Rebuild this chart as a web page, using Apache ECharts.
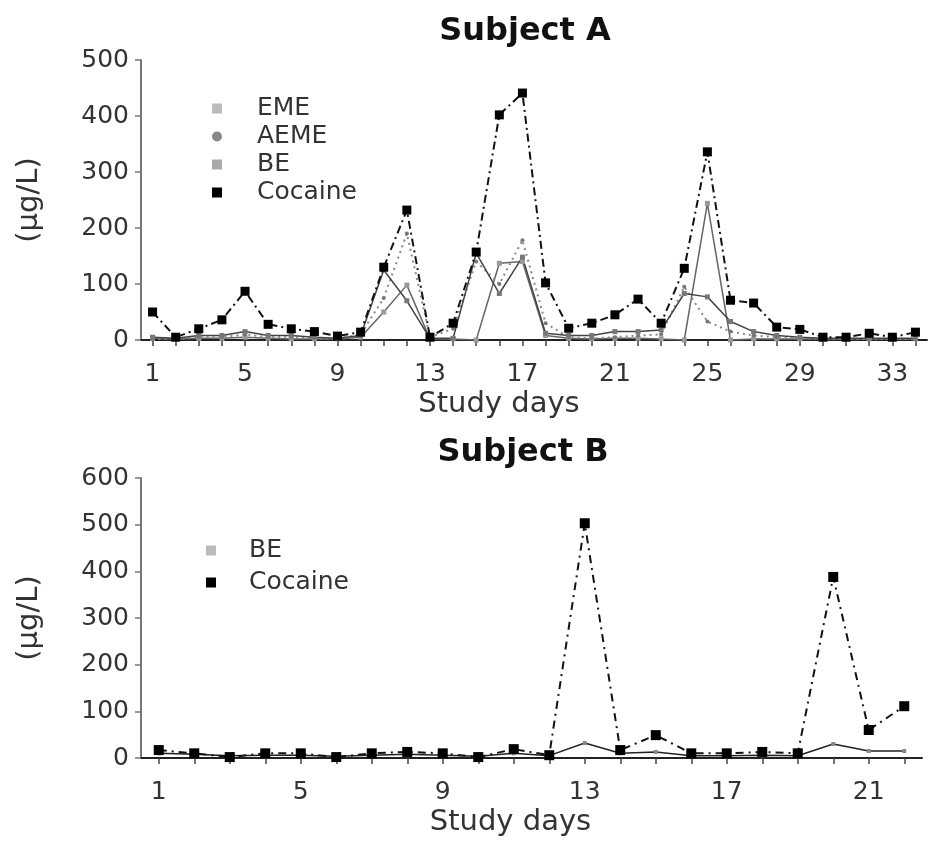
<!DOCTYPE html>
<html>
<head>
<meta charset="utf-8">
<script src="https://cdn.jsdelivr.net/npm/echarts@6/dist/echarts.min.js"></script>
<style>
  html, body { margin: 0; padding: 0; background: #fff; }
  #main { width: 928px; height: 844px; }
</style>
</head>
<body>
<div id="main"></div>
<script>
// Subject A, days 1..34
let daysA = ['1','2','3','4','5','6','7','8','9','10','11','12','13','14','15','16','17','18','19','20','21','22','23','24','25','26','27','28','29','30','31','32','33','34']
let emeA = [3, 2, 3, 3, 5, 3, 2, 2, 2, 5, 50, 98, 2, 2, 0, 137, 140, 8, 3, 2, 3, 3, 2, 0, 244, 0, 2, 2, 2, 2, 2, 2, 2, 2]
let aemeA = [2, 2, 5, 5, 10, 5, 5, 3, 2, 10, 75, 190, 5, 20, 140, 100, 178, 30, 5, 3, 5, 8, 10, 95, 33, 15, 8, 5, 3, 2, 2, 2, 2, 2]
let beA = [5, 3, 8, 8, 15, 8, 8, 5, 3, 8, 125, 70, 3, 3, 155, 83, 148, 12, 8, 8, 15, 15, 18, 83, 77, 33, 15, 8, 5, 3, 3, 3, 3, 3]
let cocaineA = [50, 5, 20, 36, 87, 28, 20, 15, 7, 14, 130, 232, 5, 30, 157, 402, 441, 102, 21, 30, 45, 73, 30, 128, 336, 71, 66, 23, 19, 5, 5, 12, 5, 14]

// Subject B, days 1..22
let daysB = ['1','2','3','4','5','6','7','8','9','10','11','12','13','14','15','16','17','18','19','20','21','22']
let beB = [10, 8, 5, 6, 6, 4, 6, 8, 6, 4, 10, 5, 32, 10, 13, 5, 5, 6, 5, 30, 15, 15]
let cocaineB = [17, 10, 2, 10, 10, 2, 10, 13, 10, 2, 19, 6, 503, 17, 49, 10, 10, 13, 10, 388, 60, 111]

let font = 'DejaVu Sans'

// 坐标轴通用样式
function xAxisOf(data, gridIndex, padRight) {
  return {
    type: 'category',
    gridIndex: gridIndex,
    data: data,
    name: 'Study days',
    nameLocation: 'middle',
    nameGap: 50,
    nameTextStyle: { fontFamily: font, fontSize: 29, color: '#333', padding: [0, padRight, 0, 0] },
    axisLine: { lineStyle: { color: '#222', width: 2 } },
    axisTick: { show: true, alignWithLabel: true, interval: 0, length: 6, lineStyle: { color: '#444', width: 1.5 } },
    axisLabel: { interval: 3, margin: 22, fontFamily: font, fontSize: 25, color: '#333' },
    splitLine: { show: false },
  }
}

function yAxisOf(max, gridIndex) {
  return {
    type: 'value',
    gridIndex: gridIndex,
    min: 0,
    max: max,
    interval: 100,
    name: '(µg/L)',
    nameLocation: 'middle',
    nameGap: 97,
    nameTextStyle: { fontFamily: font, fontSize: 29, color: '#333' },
    axisLine: { show: true, lineStyle: { color: '#777', width: 2 } },
    axisTick: { show: true, length: 6, lineStyle: { color: '#777', width: 1.5 } },
    axisLabel: { margin: 12, fontFamily: font, fontSize: 25, color: '#333', padding: [10, 0, 0, 0] },
    splitLine: { show: false },
  }
}

var myChart = echarts.init(document.getElementById('main'))
var option = {
  backgroundColor: '#fff',
  animation: false,
  title: [
    { text: 'Subject A', left: 520, top: 11, textAlign: 'center', textStyle: { fontFamily: font, fontSize: 32, fontWeight: 'bold', color: '#111' } },
    { text: 'Subject B', left: 518, top: 432, textAlign: 'center', textStyle: { fontFamily: font, fontSize: 32, fontWeight: 'bold', color: '#111' } },
  ],
  legend: [
    {
      orient: 'vertical',
      left: 207,
      top: 91,
      itemWidth: 10,
      itemHeight: 10,
      itemGap: 3,
      textStyle: { fontFamily: font, fontSize: 25, color: '#333', lineHeight: 25, padding: [0, 0, 0, 30] },
      data: [
        { name: 'EME', icon: 'rect', itemStyle: { color: '#bbb' } },
        { name: 'AEME', icon: 'circle', itemStyle: { color: '#888' } },
        { name: 'BE', icon: 'rect', itemStyle: { color: '#aaa' } },
        { name: 'Cocaine', icon: 'rect', itemStyle: { color: '#000' } },
      ],
    },
    {
      orient: 'vertical',
      left: 201,
      top: 533,
      itemWidth: 10,
      itemHeight: 10,
      itemGap: 7,
      textStyle: { fontFamily: font, fontSize: 25, color: '#333', lineHeight: 25, padding: [0, 0, 0, 28] },
      data: [
        { name: 'BE ', icon: 'rect', itemStyle: { color: '#bbb' } },
        { name: 'Cocaine ', icon: 'rect', itemStyle: { color: '#000' } },
      ],
    },
  ],
  grid: [
    { left: 141, right: 1, top: 60, height: 280 },
    { left: 141, right: 6, top: 478, height: 280 },
  ],
  xAxis: [xAxisOf(daysA, 0, 70), xAxisOf(daysB, 1, 42)],
  yAxis: [yAxisOf(500, 0), yAxisOf(600, 1)],
  series: [
    {
      name: 'EME', type: 'line', xAxisIndex: 0, yAxisIndex: 0, data: emeA,
      symbol: 'rect', symbolSize: 5,
      itemStyle: { color: '#999' },
      lineStyle: { color: '#666', width: 1.5 },
    },
    {
      name: 'AEME', type: 'line', xAxisIndex: 0, yAxisIndex: 0, data: aemeA,
      symbol: 'circle', symbolSize: 4,
      itemStyle: { color: '#777' },
      lineStyle: { color: '#888', width: 2, type: [2, 4] },
    },
    {
      name: 'BE', type: 'line', xAxisIndex: 0, yAxisIndex: 0, data: beA,
      symbol: 'rect', symbolSize: 5,
      itemStyle: { color: '#777' },
      lineStyle: { color: '#444', width: 1.5 },
    },
    {
      name: 'Cocaine', type: 'line', xAxisIndex: 0, yAxisIndex: 0, data: cocaineA,
      symbol: 'rect', symbolSize: 9,
      itemStyle: { color: '#000' },
      lineStyle: { color: '#111', width: 2, type: [8, 4, 2, 4] },
      z: 5,
    },
    {
      name: 'BE ', type: 'line', xAxisIndex: 1, yAxisIndex: 1, data: beB,
      symbol: 'rect', symbolSize: 4,
      itemStyle: { color: '#888' },
      lineStyle: { color: '#222', width: 1.5 },
    },
    {
      name: 'Cocaine ', type: 'line', xAxisIndex: 1, yAxisIndex: 1, data: cocaineB,
      symbol: 'rect', symbolSize: 10,
      itemStyle: { color: '#000' },
      lineStyle: { color: '#111', width: 2, type: [8, 5, 2, 5] },
      z: 5,
    },
  ],
}
myChart.setOption(option)
</script>
</body>
</html>
